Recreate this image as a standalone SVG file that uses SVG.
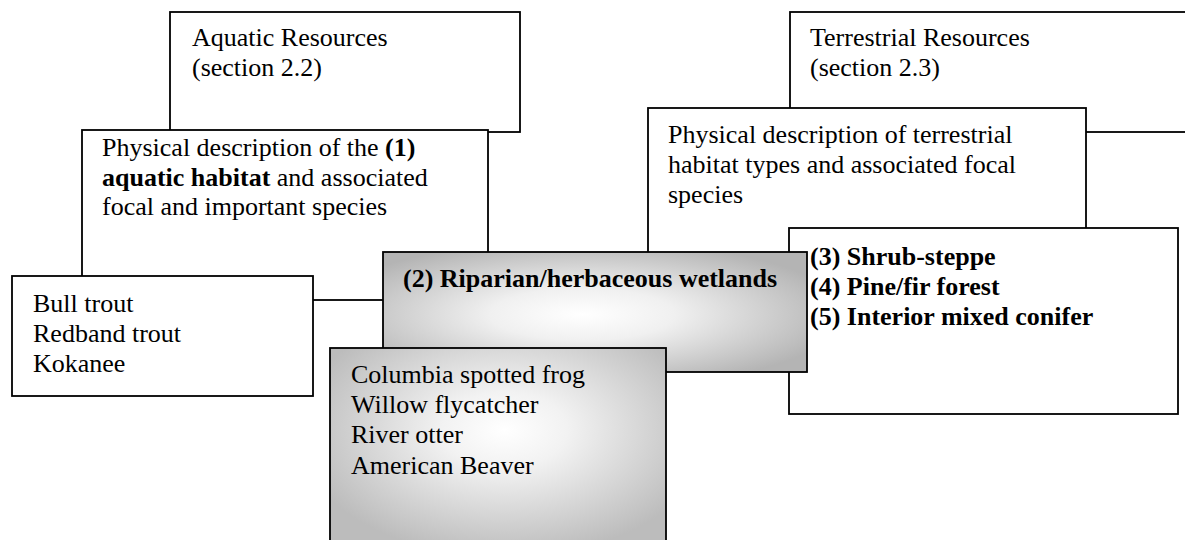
<svg xmlns="http://www.w3.org/2000/svg" width="1185" height="540" viewBox="0 0 1185 540">
<style>
.box{fill:#fff;stroke:#000;stroke-width:1.8}
.gbox{stroke:#000;stroke-width:1.8}
text{font-family:"Liberation Serif","Times New Roman",serif;font-size:26px;fill:#000}
.b{font-weight:bold}
</style>
<defs>
<radialGradient id="g1" cx="0.47" cy="0.52" r="0.62" fx="0.47" fy="0.52">
<stop offset="0" stop-color="#ffffff"/>
<stop offset="0.35" stop-color="#f0f0f0"/>
<stop offset="1" stop-color="#b4b4b4"/>
</radialGradient>
<radialGradient id="g2" cx="0.52" cy="0.4" r="0.62" fx="0.52" fy="0.4">
<stop offset="0" stop-color="#ffffff"/>
<stop offset="0.3" stop-color="#f2f2f2"/>
<stop offset="1" stop-color="#bcbcbc"/>
</radialGradient>
</defs>
<g id="aquatic-resources">
<rect class="box" x="170" y="12" width="350" height="120"/>
<text x="192" y="46">Aquatic Resources</text>
<text x="192" y="76">(section 2.2)</text>
</g>
<g id="aquatic-physical">
<rect class="box" x="82" y="130" width="406" height="170"/>
<text x="102" y="156">Physical description of the <tspan class="b">(1)</tspan></text>
<text x="102" y="186"><tspan class="b">aquatic habitat</tspan> and associated</text>
<text x="102" y="215">focal and important species</text>
</g>
<g id="aquatic-species">
<rect class="box" x="12" y="276" width="301" height="120"/>
<text x="33" y="312">Bull trout</text>
<text x="33" y="342">Redband trout</text>
<text x="33" y="372">Kokanee</text>
</g>
<g id="terrestrial-resources">
<rect class="box" x="790" y="12" width="420" height="120"/>
<text x="810" y="46">Terrestrial Resources</text>
<text x="810" y="76">(section 2.3)</text>
</g>
<g id="terrestrial-physical">
<rect class="box" x="648" y="108" width="438" height="222"/>
<text x="668" y="143">Physical description of terrestrial</text>
<text x="668" y="173">habitat types and associated focal</text>
<text x="668" y="203">species</text>
</g>
<g id="terrestrial-habitats">
<rect class="box" x="789" y="228" width="389" height="186"/>
<text class="b" x="810" y="265">(3) Shrub-steppe</text>
<text class="b" x="810" y="295">(4) Pine/fir forest</text>
<text class="b" x="810" y="325">(5) Interior mixed conifer</text>
</g>
<g id="riparian">
<rect class="gbox" x="383" y="252" width="424" height="120" fill="url(#g1)"/>
<text class="b" x="403" y="287">(2) Riparian/herbaceous wetlands</text>
</g>
<g id="riparian-species">
<rect class="gbox" x="330" y="348" width="336" height="205" fill="url(#g2)"/>
<text x="351" y="383">Columbia spotted frog</text>
<text x="351" y="413">Willow flycatcher</text>
<text x="351" y="443">River otter</text>
<text x="351" y="474">American Beaver</text>
</g>
<g id="connectors"></g>
</svg>
